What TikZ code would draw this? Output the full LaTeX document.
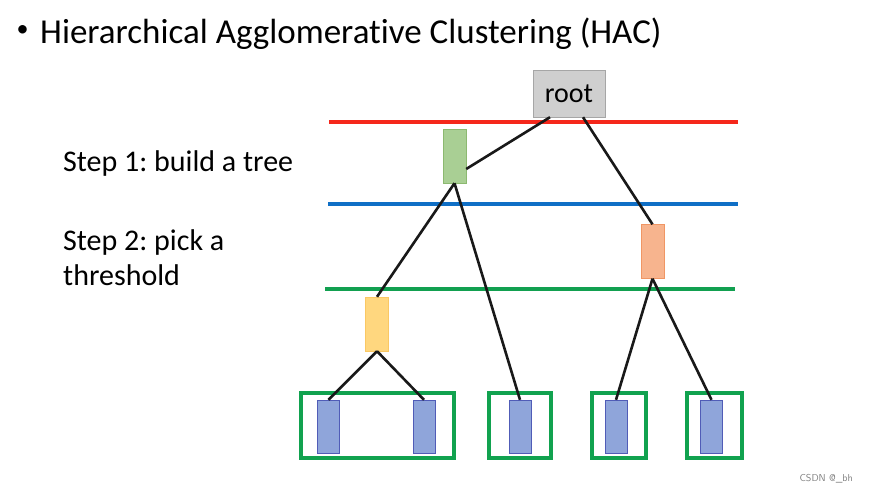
\documentclass[tikz,border=0pt]{standalone}
\usepackage{fontspec}
\setmainfont{Carlito}[Ligatures=NoCommon]
\frenchspacing
\definecolor{cutred}{HTML}{F5271B}
\definecolor{cutblue}{HTML}{0F6FC6}
\definecolor{cutgreen}{HTML}{12A050}
\definecolor{boxgreen}{HTML}{11A24F}
\definecolor{leafblue}{RGB}{143,165,218}
\tikzset{
  cluster/.style={draw, inner sep=0pt, minimum width=23pt, minimum height=54pt},
  leaf/.style={cluster, fill=leafblue, draw=leafblue!70!blue!80!black, minimum width=22pt, minimum height=53pt},
  group/.style={draw=boxgreen, line width=3.5pt},
  link/.style={line width=2.6pt, black!90}
}
\begin{document}
\begin{tikzpicture}[x=1pt, y=-1pt]
            \useasboundingbox[fill=white] (0,0) rectangle (869,493);

            \node[font=\fontsize{24}{28}\selectfont, inner sep=0pt] (bullet) at (22.5,31) {\textbullet};
            \node[anchor=base west, font=\fontsize{35}{40}\selectfont, inner sep=0pt] (title) at (40,43) {Hierarchical Agglomerative Clustering (HAC)};
            \node[anchor=base west, font=\fontsize{30}{36}\selectfont, inner sep=0pt] (step1) at (63,171) {Step 1: build a tree};
            \node[anchor=base west, font=\fontsize{30}{36}\selectfont, inner sep=0pt] (step2) at (63,250) {Step 2: pick a};
            \node[anchor=base west, font=\fontsize{30}{36}\selectfont, inner sep=0pt] (step2b) at (63,285) {threshold};

            % thresholds
            \draw[cutred, line width=3.5pt] (329,122) -- (738,122);
            \draw[cutblue, line width=3.5pt] (328,204) -- (738,204);
            \draw[cutgreen, line width=3.5pt] (325,289) -- (735,289);

            % tree nodes
            \node[draw=gray!70, fill=gray!38, minimum width=72pt, minimum height=47pt, inner sep=0pt, font=\fontsize{28}{32}\selectfont] (root) at (569,93.5) {root};
            \node[cluster, fill={rgb,255:red,169;green,207;blue,148}, draw={rgb,255:red,140;green,185;blue,112}] (g) at (454.5,156) {};
            \node[cluster, fill={rgb,255:red,247;green,180;blue,142}, draw={rgb,255:red,240;green,150;blue,100}] (o) at (652.5,251.5) {};
            \node[cluster, fill={rgb,255:red,255;green,215;blue,127}, draw={rgb,255:red,250;green,200;blue,100}] (y) at (377,324) {};

            \node[leaf] (l1) at (328.5,426.5) {};
            \node[leaf] (l2) at (424,426.5) {};
            \node[leaf] (l3) at (520,426.5) {};
            \node[leaf] (l4) at (616,426.5) {};
            \node[leaf] (l5) at (711.5,426.5) {};

            % clusters after the cut
            \draw[group] (301,393) rectangle (454,458);
            \draw[group] (489,393) rectangle (551,458);
            \draw[group] (592,393) rectangle (646,458);
            \draw[group] (687,393) rectangle (742,458);

            % links
            \draw[link] ([xshift=-19pt]root.south) -- ([yshift=-13pt]g.east);
            \draw[link] ([xshift=14pt]root.south) -- (o.north);
            \draw[link] (g.south) -- (y.north);
            \draw[link] (g.south) -- (l3.north);
            \draw[link] (y.south) -- (l1.north);
            \draw[link] (y.south) -- (l2.north);
            \draw[link] (o.south) -- (l4.north);
            \draw[link] (o.south) -- (l5.north);

            \node[anchor=base east, font=\fontsize{10}{12}\selectfont\sffamily, text=gray, inner sep=0pt] (mark) at (853,481) {CSDN @\_bh};
        \end{tikzpicture}
\end{document}
